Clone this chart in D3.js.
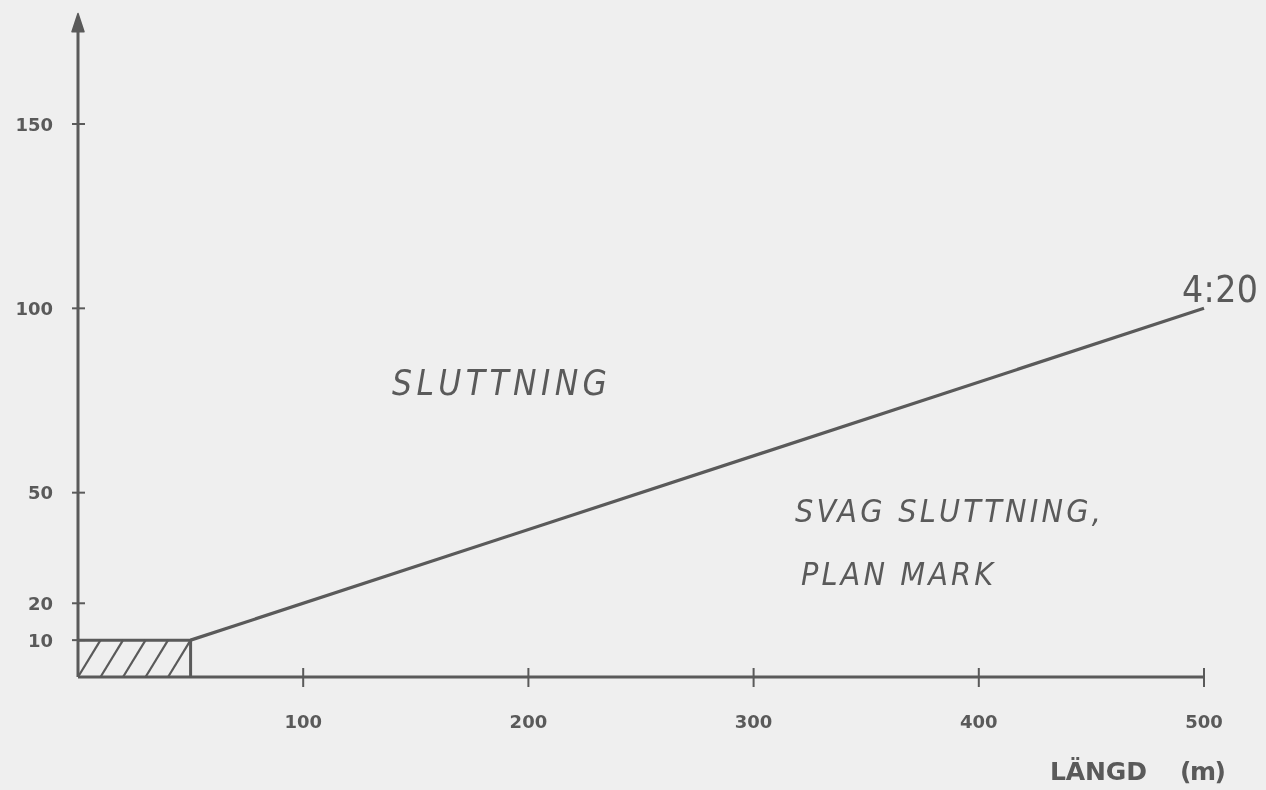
<!DOCTYPE html>
<html>
<head>
<meta charset="utf-8">
<script src="https://cdn.jsdelivr.net/npm/d3@7"></script>
<style>
  html, body { margin: 0; padding: 0; background: #efefef; }
  svg { display: block; }
</style>
</head>
<body>
<svg id="chart" width="1266" height="790"></svg>
<script>
// Gradient boundary: length (m) against height (m)
const xTicks = [100, 200, 300, 400, 500];
const yTicks = [10, 20, 50, 100, 150];
const boundaryX = [50, 500];
const boundaryY = [10, 100];
const flatZoneX = [0, 50];
const flatZoneY = [0, 10];
const hatchStarts = [0, 10, 20, 30, 40];
const ratioLabel = "4:20";
const upperZone = "SLUTTNING";
const lowerZone = ["SVAG SLUTTNING,", "PLAN MARK"];
const xTitle = ["LÄNGD", "(m)"];

const svg = d3.select("#chart");
const ink = "#5a5a5a";

const defs = svg.append("defs");
defs.append("filter").attr("id", "soft")
  .append("feGaussianBlur").attr("stdDeviation", 0.6);

const x = d3.scaleLinear().domain([0, 500]).range([78, 1204]);
const y = d3.scaleLinear().domain([0, 150]).range([677, 124]);

const g = svg.append("g").attr("filter", "url(#soft)");

// Axes
g.append("line")
  .attr("x1", x(0)).attr("x2", x(0))
  .attr("y1", y(0)).attr("y2", y(176))
  .attr("stroke", ink).attr("stroke-width", 3);
g.append("path")
  .attr("d", d3.line()([[x(0) - 6, y(175)], [x(0), y(180)], [x(0) + 6, y(175)]]) + "Z")
  .attr("fill", ink).attr("stroke", ink).attr("stroke-width", 1.5).attr("stroke-linejoin", "round");
g.append("line")
  .attr("x1", x(0)).attr("x2", x(500))
  .attr("y1", y(0)).attr("y2", y(0))
  .attr("stroke", ink).attr("stroke-width", 3);

const tickFont = "DejaVu Sans, sans-serif";

// Y ticks (small crosses) and labels
const yt = g.append("g");
yt.selectAll("line").data(yTicks).join("line")
  .attr("x1", x(0) - 6).attr("x2", x(0) + 7)
  .attr("y1", d => y(d)).attr("y2", d => y(d))
  .attr("stroke", ink).attr("stroke-width", 2);
yt.selectAll("text").data(yTicks).join("text")
  .attr("x", 53).attr("y", d => y(d) + 6.5)
  .attr("text-anchor", "end")
  .attr("font-family", tickFont)
  .attr("font-weight", "bold").attr("font-size", 18)
  .attr("fill", ink)
  .text(d => d);

// X ticks and labels
const xt = g.append("g");
xt.selectAll("line").data(xTicks).join("line")
  .attr("x1", d => x(d)).attr("x2", d => x(d))
  .attr("y1", y(0) - 9).attr("y2", y(0) + 10)
  .attr("stroke", ink).attr("stroke-width", 2);
xt.selectAll("text").data(xTicks).join("text")
  .attr("x", d => x(d)).attr("y", 728)
  .attr("text-anchor", "middle")
  .attr("font-family", tickFont)
  .attr("font-weight", "bold").attr("font-size", 18)
  .attr("fill", ink)
  .text(d => d);

// Flat zone: hatched rectangle
g.append("path")
  .attr("d", d3.line()([[x(flatZoneX[0]), y(flatZoneY[1])], [x(flatZoneX[1]), y(flatZoneY[1])], [x(flatZoneX[1]), y(flatZoneY[0])]]))
  .attr("fill", "none").attr("stroke", ink).attr("stroke-width", 3);
g.selectAll("line.hatch").data(hatchStarts).join("line")
  .attr("class", "hatch")
  .attr("x1", d => x(d)).attr("y1", y(0))
  .attr("x2", d => x(d + 10)).attr("y2", y(10))
  .attr("stroke", ink).attr("stroke-width", 2.2);

// Boundary line
g.append("path")
  .attr("d", d3.line().x(d => x(d[0])).y(d => y(d[1]))(boundaryX.map((v, i) => [v, boundaryY[i]])))
  .attr("fill", "none").attr("stroke", ink).attr("stroke-width", 3.2);

// Labels
const letterFont = "DejaVu Sans Condensed, DejaVu Sans, sans-serif";

g.append("text")
  .attr("x", 1182).attr("y", 302)
  .attr("font-family", letterFont)
  .attr("font-size", 37).attr("fill", ink)
  .attr("textLength", 76).attr("lengthAdjust", "spacing")
  .text(ratioLabel);

g.append("text")
  .attr("x", 392).attr("y", 395)
  .attr("font-family", letterFont).attr("font-style", "italic")
  .attr("font-size", 35).attr("fill", ink)
  .attr("textLength", 215).attr("lengthAdjust", "spacing")
  .text(upperZone);

const lowerPos = [{x: 795, y: 522, w: 306}, {x: 801, y: 585, w: 192}];
g.selectAll("text.lower").data(lowerZone).join("text")
  .attr("class", "lower")
  .attr("x", (d, i) => lowerPos[i].x).attr("y", (d, i) => lowerPos[i].y)
  .attr("font-family", letterFont).attr("font-style", "italic")
  .attr("font-size", 32).attr("fill", ink)
  .attr("textLength", (d, i) => lowerPos[i].w).attr("lengthAdjust", "spacing")
  .text(d => d);

const titlePos = [{x: 1050, w: 97}, {x: 1180, w: 46}];
g.selectAll("text.title").data(xTitle).join("text")
  .attr("class", "title")
  .attr("x", (d, i) => titlePos[i].x).attr("y", 780)
  .attr("font-family", "DejaVu Sans, sans-serif").attr("font-weight", "bold")
  .attr("font-size", 25).attr("fill", ink)
  .attr("textLength", (d, i) => titlePos[i].w).attr("lengthAdjust", "spacing")
  .text(d => d);
</script>
</body>
</html>
